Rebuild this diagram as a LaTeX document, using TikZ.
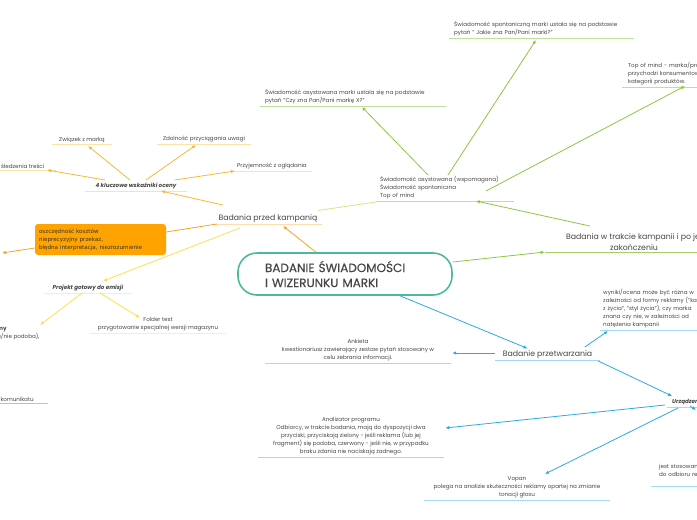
\documentclass[tikz,border=0pt]{standalone}
\usepackage{fontspec}
\usepackage{xcolor}
\setmainfont{Poppins}
\newfontfamily\titlefont{Poppins}[FakeBold=0.4]
\newfontfamily\boxfont{DejaVu Sans}
\usetikzlibrary{%
    arrows.meta,%
    calc%
}
\definecolor{txt}{HTML}{454545}
\definecolor{rootln}{HTML}{4DB99B}
\definecolor{orangeln}{HTML}{F6A326}
\definecolor{amberln}{HTML}{F7B834}
\definecolor{yellowln}{HTML}{FBE14B}
\definecolor{greenln}{HTML}{8DC63F}
\definecolor{blueln}{HTML}{2AAAE2}
\definecolor{orangeul}{HTML}{FDDDB0}
\definecolor{amberul}{HTML}{FCE4A8}
\definecolor{yellowul}{HTML}{FDF1A6}
\definecolor{greenul}{HTML}{BFE09A}
\definecolor{blueul}{HTML}{A3DAF6}
\definecolor{pinkul}{HTML}{F3A5C4}
\definecolor{costfill}{HTML}{FFA300}
\newcommand{\smalltxt}{\fontsize{5.6}{8}\selectfont}
\newcommand{\midtxt}{\fontsize{7.8}{11}\selectfont}
\newcommand{\topicline}[2]{
  % underline below a topic
  \draw[#2, line width=0.8pt] (#1.south west) -- (#1.south east);
}

\begin{document}
\begin{tikzpicture}[
        x=1pt, y=-1pt,
        topic/.style={inner xsep=0pt, inner ysep=1.6pt, text=txt,
            font=\smalltxt, align=center},
        ltopic/.style={topic, align=left, anchor=south west},
        keytopic/.style={topic, font=\smalltxt\bfseries\itshape},
        rootbox/.style={draw=rootln, line width=1.6pt, rounded corners=19pt,
            minimum width=214pt, minimum height=42pt, text width=160pt,
            align=left, text=txt, font={\titlefont\fontsize{12}{15}\selectfont}},
        costbox/.style={fill=costfill, rounded corners=3pt, minimum width=131pt,
            minimum height=31pt, text width=123pt, inner xsep=4pt, align=left,
            text=black!80, font={\boxfont\fontsize{5.6}{8}\selectfont}},
        conn/.style={line width=0.8pt, -{Latex[length=4pt,width=3.5pt]}},
    ]
    \useasboundingbox (0,0) rectangle (697,520);
    \clip (0,0) rectangle (697,520);

    % Centre
    \node[rootbox] (root) at (345,274) {BADANIE ŚWIADOMOŚCI\\I WIZERUNKU MARKI};

    % Badania przed kampania
    \node[topic, font=\midtxt, minimum width=108pt, anchor=south] (badprzed) at (268,224) {Badania przed kampanią};
    \topicline{badprzed}{orangeul}
    \draw[conn, orangeln] ($(root.north)+(-29,0)$) -- ($(badprzed.south)+(15,2)$);

    % 4 kluczowe wskazniki
    \node[keytopic, minimum width=102pt, anchor=south] (klucz) at (136,191) {4 kluczowe wskaźniki oceny};
    \topicline{klucz}{amberul}
    \draw[conn, amberln] ($(badprzed.south west)+(9,-19)$) -- ($(klucz.south)+(25,0)$);

    \node[topic, minimum width=60pt, anchor=south] (zwiazek) at (82,144) {Związek z marką};
    \node[topic, minimum width=94pt, anchor=south] (zdolnosc) at (204,144) {Zdolność przyciągania uwagi};
    \node[topic, minimum width=96pt, anchor=south east] (sledzenie) at (56,170) {Możliwość śledzenia treści};
    \node[topic, minimum width=80pt, anchor=south] (przyjem) at (272,171) {Przyjemność z oglądania};
    \topicline{zwiazek}{amberul}
    \topicline{zdolnosc}{amberul}
    \topicline{sledzenie}{amberul}
    \topicline{przyjem}{amberul}
    \draw[conn, amberln] ($(klucz.south)+(-6,-11)$) -- ($(zwiazek.south)+(6,2)$);
    \draw[conn, amberln] ($(klucz.south)+(10,-11)$) -- ($(zdolnosc.south)+(-8,1)$);
    \draw[conn, amberln] ($(klucz.south)+(-31,-11)$) -- ($(sledzenie.south east)+(-9,0)$);
    \draw[conn, amberln] ($(klucz.south)+(39,-11)$) -- ($(przyjem.south west)+(3,0)$);

    % Koszty
    \node[costbox] (koszty) at (100.5,239.5) {oszczędność kosztów\\nieprecyzyjny przekaz,\\błędna interpretacja, niezrozumienie};
    \coordinate (lewy) at (2,253);
    \draw[line width=0.8pt, orangeln] ($(badprzed.south west)+(3,0)$) -- ($(koszty.east)+(0,-7.5)$);
    \draw[conn, orangeln] ($(koszty.west)+(0,8.5)$) -- (lewy);

    % Projekt gotowy do emisji
    \node[keytopic, minimum width=88pt, anchor=south] (projekt) at (88,293) {Projekt gotowy do emisji};
    \topicline{projekt}{yellowul}
    \draw[conn, yellowln] ($(badprzed.south west)+(26,4)$) -- ($(projekt.south)+(15,-12)$);

    \node[topic, align=left, anchor=north west] (ocena) at (-3,326) {\textbf{my}\\a/nie podoba),};
    \node[topic, minimum width=136pt, anchor=south] (folder) at (158,333) {Folder test\\przygotowanie specjalnej wersji magazynu};
    \topicline{folder}{yellowul}
    \draw[conn, yellowln] ($(projekt.south)+(-6,0)$) -- ($(ocena.north west)+(43,-1)$);
    \draw[conn, yellowln] ($(projekt.south)+(12,0)$) -- ($(folder.north)+(-18,2)$);

    % Komunikat
    \node[topic, minimum width=100pt, align=right, anchor=south east] (komunikat) at (48,403) {Zrozumiałość komunikatu};
    \topicline{komunikat}{pinkul}

    % Badania w trakcie kampanii
    \node[topic, font=\midtxt, minimum width=178pt, anchor=south] (badtrakcie) at (634,252) {Badania w trakcie kampanii i po jej\\zakończeniu};
    \topicline{badtrakcie}{greenln!80}
    \draw[conn, greenln] ($(root.east)+(0,-12)$) -- (badtrakcie.south west);

    \node[ltopic, text width=130pt, inner xsep=4pt] (swiad) at (376,201) {Świadomość asystowana (wspomagana)\\Świadomość spontaniczna\\Top of mind};
    \topicline{swiad}{greenul}
    \draw[conn, greenln] ($(badtrakcie.south west)+(45,-26)$) -- ($(swiad.south west)+(100,0)$);
    \draw[line width=0.8pt, yellowln!60!greenln!70] ($(badprzed.north east)+(-4,-2)$) -- ($(swiad.south west)+(0,1)$);

    \node[ltopic, text width=176pt, inner xsep=5pt] (asyst) at (260,106) {Świadomość asystowana marki ustala się na podstawie\\pytań "Czy zna Pan/Pani markę X?"};
    \node[ltopic, text width=175pt, inner xsep=5pt] (spont) at (449,38) {Świadomość spontaniczną marki ustala się na podstawie\\pytań " Jakie zna Pan/Pani marki?"};
    \node[ltopic, text width=170pt, inner xsep=6pt] (topmind) at (622,87) {Top of mind - marka/produkt, który jako pierwszy\\przychodzi konsumentowi na myśl w danej\\kategorii produktów.};
    \topicline{asyst}{greenul}
    \topicline{spont}{greenul}
    \topicline{topmind}{greenul}
    \draw[conn, greenln] ($(swiad.south west)+(52,-26)$) -- ($(asyst.south west)+(102,1)$);
    \draw[conn, greenln] ($(swiad.south west)+(72,-26)$) -- ($(spont.south west)+(87,2)$);
    \draw[conn, greenln] ($(swiad.south west)+(110,-10)$) -- ($(topmind.south west)+(63,-1)$);

    % Badanie przetwarzania
    \node[topic, font=\midtxt, minimum width=105pt, anchor=south] (badprzetw) at (547.5,360) {Badanie przetwarzania};
    \topicline{badprzetw}{blueul}
    \draw[conn, blueln] ($(root.south)+(55,0)$) -- ($(badprzetw.north)+(-20,0)$);

    \node[topic, minimum width=186pt, anchor=south] (ankieta) at (358,363) {Ankieta\\kwestionariusz zawierający zestaw pytań stosowany w\\celu zebrania informacji.};
    \node[ltopic, text width=150pt, inner xsep=3pt] (wyniki) at (600,330) {wyniki/ocena może być różna w\\zależności od formy reklamy ("kawałek\\z życia", "styl życia"), czy marka\\znana czy nie, w zależności od\\natężenia kampanii};
    \node[keytopic, align=left, anchor=south west, inner xsep=5pt] (urz) at (667,407) {Urządzenia};
    \topicline{ankieta}{blueul}
    \topicline{wyniki}{blueul}
    \topicline{urz}{blueul}
    \draw[conn, blueln] ($(badprzetw.south west)+(0,-7)$) -- ($(ankieta.south east)+(1,-10)$);
    \draw[conn, blueln] ($(badprzetw.south west)+(90,-13)$) -- ($(wyniki.south west)+(8,1)$);
    \draw[conn, blueln] ($(badprzetw.south east)+(-2,1)$) -- ($(urz.south west)+(5,-11)$);

    % Urzadzenia
    \node[topic, minimum width=186pt, anchor=south] (analiz) at (351,457) {Analizator programu\\Odbiorcy, w trakcie badania, mają do dyspozycji dwa\\przyciski, przyciskają zielony - jeśli reklama (lub jej\\fragment) się podoba, czerwony - jeśli nie, w przypadku\\braku zdania nie naciskają żadnego.};
    \node[topic, minimum width=186pt, anchor=south] (vopan) at (517,500) {Vopan\\polega na analizie skuteczności reklamy opartej na zmianie\\tonacji głosu};
    \node[ltopic, text width=100pt, inner xsep=8pt, minimum height=30pt] (jest) at (651,486) {jest stosowany\\do odbioru reklamy};
    \topicline{analiz}{blueul}
    \topicline{vopan}{blueul}
    \topicline{jest}{blueul}
    \draw[conn, blueln] ($(urz.south west)+(-2,-2)$) -- ($(analiz.south east)+(1,-29)$);
    \draw[conn, blueln] ($(urz.south west)+(11,1)$) -- ($(vopan.north)+(28,-1)$);
    \draw[conn, blueln] ($(urz.south west)+(23,-1)$) -- ($(urz.south west)+(29,3)$);
\end{tikzpicture}
\end{document}
